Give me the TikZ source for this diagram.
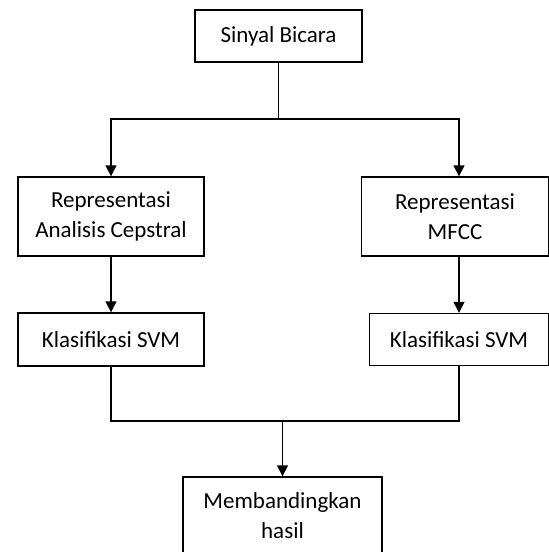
\documentclass[tikz,border=0pt]{standalone}
\usepackage{fontspec}
\setmainfont{Carlito}
\usetikzlibrary{arrows.meta}

\tikzset{
  kotak/.style={draw, line width=1.4pt, align=center, inner sep=0pt,
    font=\fontsize{23}{30}\selectfont},
  panah/.style={line width=1.4pt, -{Triangle[width=11pt,length=11pt]}},
  garis/.style={line width=1.4pt}
}

\begin{document}
\begin{tikzpicture}[x=1pt, y=-1pt]

    \useasboundingbox (0,0) rectangle (549,552);
    \clip (0,0) rectangle (549,552);

    % Masukan
    \node [kotak, minimum width=167pt, minimum height=52pt] (sinyal) at (278.5,36) {Sinyal Bicara};

    % Representasi
    \node [kotak, minimum width=186pt, minimum height=79pt] (repA) at (111,216.5) {Representasi\\Analisis Cepstral};
    \node [kotak, minimum width=187pt, minimum height=79pt] (repM) at (455,216.5) {Representasi\\MFCC};

    % Klasifikasi
    \node [kotak, minimum width=186pt, minimum height=53pt] (svmA) at (111,339.5) {Klasifikasi SVM};
    \node [kotak, minimum width=179pt, minimum height=52pt] (svmM) at (459,339.5) {Klasifikasi SVM};

    % Hasil
    \node [kotak, minimum width=199pt, minimum height=78pt] (hasil) at (282.5,516) {Membandingkan\\hasil};

    % Titik percabangan
    \coordinate (cabang) at (278.5,119);
    \coordinate (gabung) at (282.5,421);

    % Dari sinyal ke representasi
    \draw [garis] (sinyal.south) -- (cabang);
    \draw [panah] (cabang) -| (repA.north);
    \draw [panah] (cabang) -| (repM.north -| svmM.north);

    % Dari representasi ke klasifikasi
    \draw [panah] (repA.south) -- (svmA.north);
    \draw [panah] (repM.south -| svmM.north) -- (svmM.north);

    % Dari klasifikasi ke hasil
    \draw [garis] (svmA.south) |- (gabung) -| (svmM.south);
    \draw [panah] (gabung) -- (hasil.north);

\end{tikzpicture}
\end{document}
